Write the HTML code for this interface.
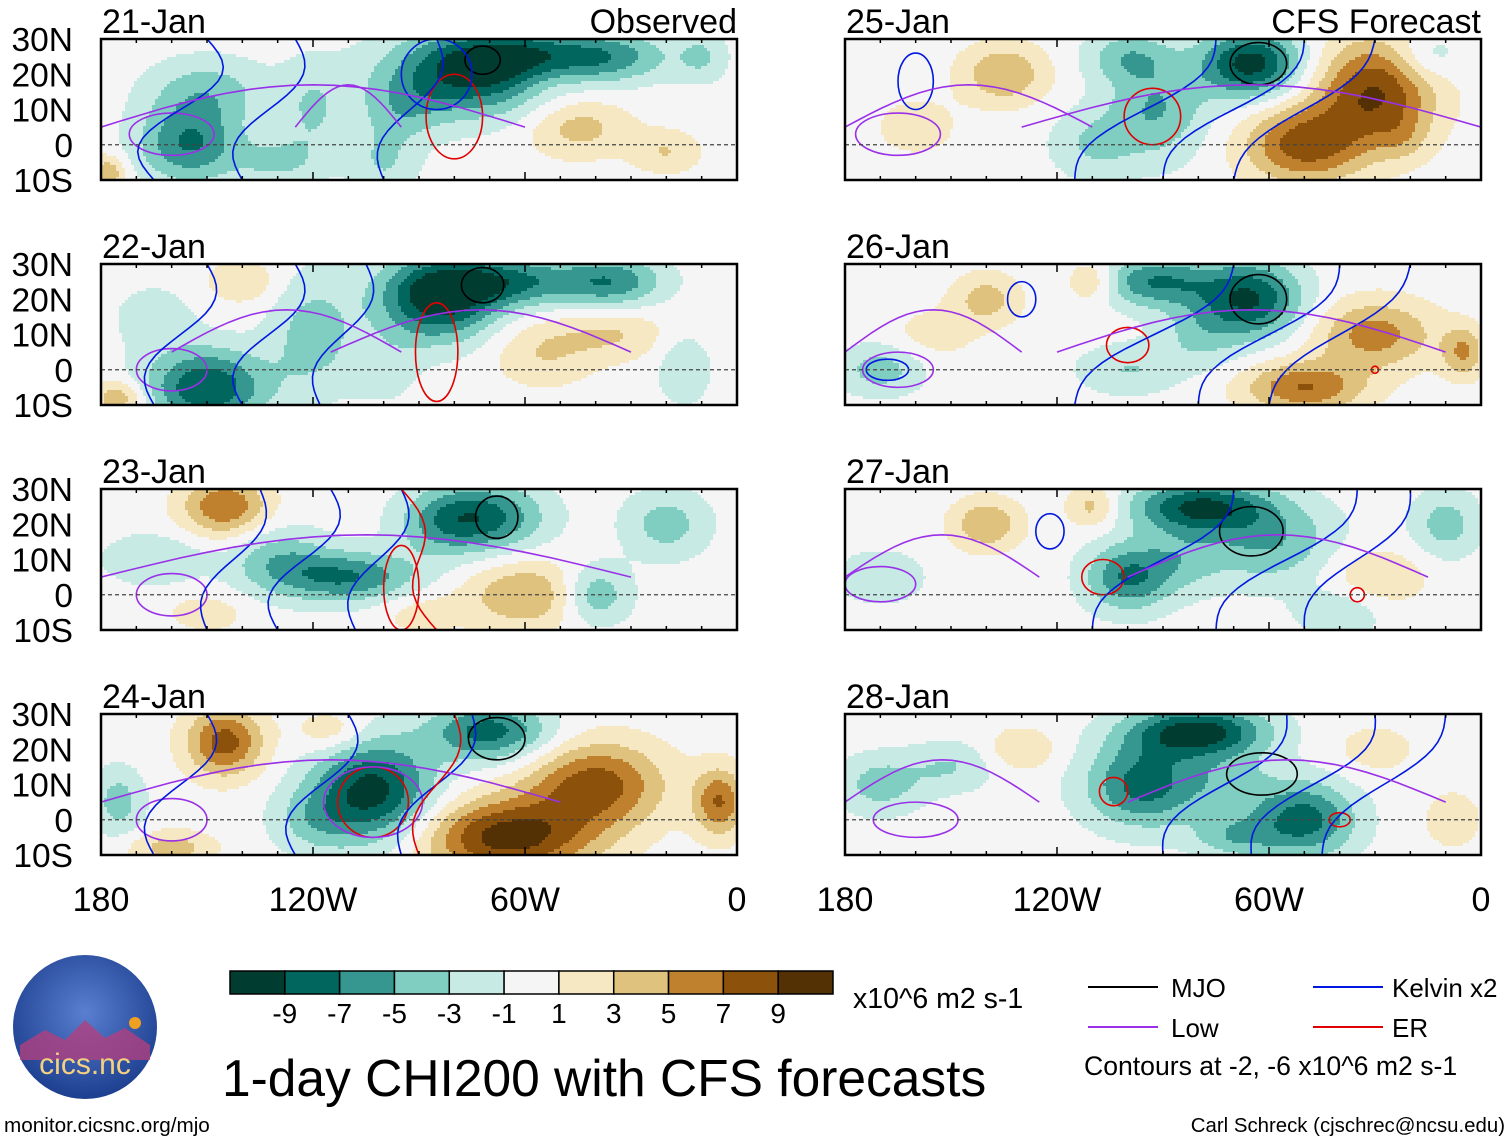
<!DOCTYPE html>
<html><head><meta charset="utf-8">
<style>
html,body{margin:0;padding:0;background:#fff;}
svg{display:block;font-family:"Liberation Sans",sans-serif;}
</style></head>
<body>
<div style="position:relative;width:1510px;height:1142px">
<svg id="chart" width="1510" height="1142" viewBox="0 0 1510 1142" style="position:absolute;left:0;top:0">
<defs>
<radialGradient id="logoGrad2" cx="50%" cy="40%" r="60%"><stop offset="0" stop-color="#5a7fd0"/><stop offset="1" stop-color="#1d3f8f"/></radialGradient>
</defs>
<g id="panels"></g>
<g id="bottom"></g>
<g><text x="853" y="1008" font-size="28.5">x10^6 m2 s-1</text></g>
<g><text x="222" y="1096" font-size="51.5">1-day CHI200 with CFS forecasts</text></g>
<g>
<line x1="1088" x2="1158" y1="987" y2="987" stroke="#000" stroke-width="2"/><text x="1171" y="997" font-size="26">MJO</text>
<line x1="1088" x2="1158" y1="1027" y2="1027" stroke="#9a30e8" stroke-width="2"/><text x="1171" y="1037" font-size="26">Low</text>
<line x1="1313" x2="1383" y1="987" y2="987" stroke="#0018e0" stroke-width="2"/><text x="1392" y="997" font-size="26">Kelvin x2</text>
<line x1="1313" x2="1383" y1="1027" y2="1027" stroke="#e00000" stroke-width="2"/><text x="1392" y="1037" font-size="26">ER</text>
<text x="1084" y="1075" font-size="26.6">Contours at -2, -6 x10^6 m2 s-1</text>
</g>
<g>
<circle cx="85" cy="1027" r="72" fill="url(#logoGrad2)"/>
<path d="M20 1045 L45 1030 L65 1040 L85 1020 L105 1038 L125 1028 L150 1045 L150 1060 L20 1060Z" fill="#b04080" opacity="0.8"/>
<circle cx="135" cy="1023" r="6" fill="#f0a020"/>
<text x="85" y="1074" font-size="30" fill="#f5d080" text-anchor="middle">cics.nc</text>
</g>
<g><text x="4" y="1132" font-size="20.7">monitor.cicsnc.org/mjo</text></g>
<g><text x="1505" y="1132" font-size="20.4" text-anchor="end">Carl Schreck (cjschrec@ncsu.edu)</text></g>
</svg>
</div>
<script>
// ---- data ----
const panelTitles = ["21-Jan","22-Jan","23-Jan","24-Jan","25-Jan","26-Jan","27-Jan","28-Jan"];
const colorLevels = [-9,-7,-5,-3,-1,1,3,5,7,9];
const colorPalette = ["#003c30","#01665e","#35978f","#80cdc1","#c7eae5","#f5f5f5","#f6e8c3","#dfc27d","#bf812d","#8c510a","#543005"];
const latTicks = ["30N","20N","10N","0","10S"];
const lonTicks = ["180","120W","60W","0"];
// anomaly blobs: [lonW, lat, value, halfWidthDeg, halfHeightDeg]
const blobs0 = [[75,20,-9,20,10],[60,25,-6,18,6],[155,0,-7,12,9],[150,15,-4,14,8],[120,10,-3,8,12],[45,5,4,12,7],[55,20,2,10,6],[178,-8,5,4,4],[35,25,-5,14,6],[100,-5,-3,8,8],[20,-2,3,8,5],[10,25,-3,6,6],[130,-5,-3,10,6],[95,10,-3,10,8]];
const blobs1 = [[85,20,-10,14,10],[65,25,-7,18,6],[150,-5,-9,14,9],[120,10,-4,10,14],[55,5,3,12,8],[35,10,3,12,6],[140,25,3,8,5],[175,-8,5,6,4],[35,25,-6,12,6],[15,0,-3,6,8],[100,0,-2,8,8],[165,15,-2,10,8]];
const blobs2 = [[72,22,-8,14,8],[145,25,7,10,7],[110,5,-7,16,6],[130,10,-4,12,8],[60,0,5,14,8],[40,0,-5,8,7],[150,-5,2,10,5],[20,20,-4,10,8],[165,10,-3,12,6],[90,-5,2,10,5],[85,20,-3,10,8]];
const blobs3 = [[145,22,8,9,8],[103,8,-10,14,12],[70,25,-8,14,7],[65,-5,10,20,9],[40,10,8,16,10],[5,5,7,6,8],[175,5,-4,6,8],[115,25,3,8,5],[160,-8,4,10,4],[120,0,-3,10,8]];
const blobs4 = [[65,23,-10,12,8],[92,10,-5,12,12],[30,15,9,14,12],[50,0,8,14,9],[135,20,5,10,7],[100,25,-4,10,6],[160,5,2,10,7],[15,25,-3,8,6],[22,2,2,6,6],[110,0,-3,10,8]];
const blobs5 = [[65,20,-9,12,9],[92,25,-7,14,6],[140,20,4,8,6],[110,25,4,6,5],[30,10,6,14,8],[50,-5,7,14,6],[170,0,-4,10,6],[100,0,-3,12,6],[155,10,2,10,6],[5,5,5,5,6],[80,10,-3,10,8]];
const blobs6 = [[80,25,-9,16,6],[100,5,-7,10,8],[60,15,-5,16,10],[140,20,5,8,6],[110,25,4,6,5],[30,5,3,12,7],[170,5,-3,10,6],[40,-5,-3,10,6],[10,20,-4,8,8],[85,10,-3,10,8]];
const blobs7 = [[80,25,-10,16,6],[95,10,-8,14,10],[50,0,-8,12,9],[170,10,-4,10,7],[130,20,3,8,5],[150,15,-3,10,6],[30,20,2,10,6],[8,0,3,6,6],[70,-5,-4,10,5],[70,10,-3,10,8]];
const panelBlobs = [blobs0,blobs1,blobs2,blobs3,blobs4,blobs5,blobs6,blobs7];
// closed contours: [kind, lonW, lat, halfWidthDeg, halfHeightDeg]
const cont0 = [["mjo",72,24,5,4],["er",80,8,8,12],["low",160,3,12,6],["kel",85,20,10,10]];
const cont1 = [["mjo",72,24,6,5],["er",85,5,6,14],["low",160,0,10,6]];
const cont2 = [["mjo",68,22,6,6],["er",95,2,5,12],["low",160,0,10,6]];
const cont3 = [["mjo",68,23,8,6],["er",103,5,10,10],["low",160,0,10,6],["low",103,5,14,10]];
const cont4 = [["mjo",63,23,8,6],["er",93,8,8,8],["low",165,3,12,6],["kel",160,18,5,8]];
const cont5 = [["mjo",63,20,8,7],["er",100,7,6,5],["low",165,0,10,5],["kel",168,0,6,3],["kel",130,20,4,5],["er",30,0,1,1]];
const cont6 = [["mjo",65,18,9,7],["er",107,5,6,5],["low",170,3,10,5],["kel",122,18,4,5],["er",35,0,2,2]];
const cont7 = [["mjo",62,13,10,6],["er",104,8,4,4],["low",160,0,12,5],["er",40,0,3,2]];
const panelContours = [cont0,cont1,cont2,cont3,cont4,cont5,cont6,cont7];
// open lines: [kind, lonW at 10S, lonW at 30N, wiggle amplitude deg]
const lines0 = [["kel",165,150,8],["kel",140,125,6],["kel",100,85,5],["low",180,60,0],["low",125,95,6]];
const lines1 = [["kel",165,150,6],["kel",140,125,6],["kel",118,105,5],["low",115,30,0],["low",160,95,6]];
const lines2 = [["kel",150,135,5],["kel",130,115,6],["kel",108,95,5],["low",180,30,0],["er",85,95,4]];
const lines3 = [["kel",165,150,6],["kel",125,110,6],["kel",95,75,5],["low",180,50,0],["er",90,80,4]];
const lines4 = [["kel",115,75,6],["kel",90,50,6],["kel",70,30,5],["low",130,0,0],["low",180,110,0]];
const lines5 = [["kel",115,70,6],["kel",80,40,6],["kel",60,20,5],["low",120,10,0],["low",180,130,0]];
const lines6 = [["kel",110,70,6],["kel",75,35,6],["kel",50,20,5],["low",100,15,0],["low",180,125,0]];
const lines7 = [["kel",90,55,6],["kel",65,30,6],["kel",45,10,5],["low",100,10,0],["low",180,125,0]];
const panelLines = [lines0,lines1,lines2,lines3,lines4,lines5,lines6,lines7];

// ---- layout ----
const NS="http://www.w3.org/2000/svg";
const colX=[101,845], rowY=[39,264,489,714], PW=636, PH=141;
const SPREAD=1.2;
const kindColor={mjo:"#000",kel:"#0018e0",low:"#9a30e8",er:"#e00000"};
function mk(tag,attrs,parent){const e=document.createElementNS(NS,tag);for(const k in attrs)e.setAttribute(k,attrs[k]);parent.appendChild(e);return e;}
function colorIdx(v){let i=0;while(i<colorLevels.length&&v>colorLevels[i])i++;return i;}
const panelsG=document.getElementById('panels');
const defs=document.querySelector('defs');
const CELL=3;

panelTitles.forEach((t,p)=>{
  const x0=colX[p<4?0:1], y0=rowY[p%4];
  const xS=lon=>x0+(180-lon)/180*PW;
  const yS=lat=>y0+(30-lat)/40*PH;
  const cp=mk('clipPath',{id:'cp'+p},defs);
  mk('rect',{x:x0,y:y0,width:PW,height:PH},cp);
  const g=mk('g',{},panelsG);
  
  
  const field=mk('g',{'clip-path':'url(#cp'+p+')'},g);
  const bl=panelBlobs[p];
  const nx=Math.ceil(PW/CELL), ny=Math.ceil(PH/CELL);
  for(let j=0;j<ny;j++){
    const lat=30-((j+0.5)*CELL)/PH*40;
    let runStart=0, runIdx=-1;
    for(let i=0;i<=nx;i++){
      let idx=-2;
      if(i<nx){
        const lon=180-((i+0.5)*CELL)/PW*180;
        let v=0;
        bl.forEach(b=>{const dx=(lon-b[0])/(b[3]*SPREAD), dy=(lat-b[1])/(b[4]*SPREAD); v+=b[2]*Math.exp(-(dx*dx+dy*dy));});
        idx=colorIdx(v);
      }
      if(idx!==runIdx){
        if(runIdx>=0){
          const r=mk('rect',{x:x0+runStart*CELL,y:y0+j*CELL,width:(i-runStart)*CELL+0.6,height:CELL+0.6,fill:colorPalette[runIdx]},field);
          
          
        }
        runStart=i; runIdx=idx;
      }
    }
  }
  panelContours[p].forEach(c=>{
    const e=mk('ellipse',{cx:xS(c[1]),cy:yS(c[2]),rx:c[3]/180*PW,ry:c[4]/40*PH,fill:'none',stroke:kindColor[c[0]],'stroke-width':1.6},field);
    
    
  });
  panelLines[p].forEach(l=>{
    let d='';
    for(let k=0;k<=20;k++){
      const f=k/20, lat=-10+40*f;
      const lon=l[1]+(l[2]-l[1])*f+l[3]*Math.sin(f*Math.PI*2);
      d+=(k?'L':'M')+xS(lon).toFixed(1)+' '+yS(lat).toFixed(1);
    }
    if(l[0]==='low'){
      d='';
      for(let k=0;k<=20;k++){
        const f=k/20, lon=l[1]+(l[2]-l[1])*f, lat=5+12*Math.sin(f*Math.PI);
        d+=(k?'L':'M')+xS(lon).toFixed(1)+' '+yS(lat).toFixed(1);
      }
    }
    const e=mk('path',{d:d,fill:'none',stroke:kindColor[l[0]],'stroke-width':1.6},field);
    
    
  });
  mk('line',{x1:x0,x2:x0+PW,y1:yS(0),y2:yS(0),stroke:'#444','stroke-width':1.3,'stroke-dasharray':'4,3'},g);
  const fr=mk('rect',{x:x0,y:y0,width:PW,height:PH,fill:'none',stroke:'#000','stroke-width':2.5},g);
  
  
  for(let lon=180;lon>=0;lon-=10){
    const L=(lon%60===0)?8:4;
    mk('line',{x1:xS(lon),x2:xS(lon),y1:y0,y2:y0+L,stroke:'#000','stroke-width':1.5},g);
    mk('line',{x1:xS(lon),x2:xS(lon),y1:y0+PH,y2:y0+PH-L,stroke:'#000','stroke-width':1.5},g);
  }
  const tt=mk('text',{x:x0+1,y:y0-6,'font-size':34,fill:'#000'},g);
  tt.textContent=t;
  
  
  if(p===0||p===4){
    const r=mk('text',{x:x0+PW,y:y0-6,'font-size':34,'text-anchor':'end'},g);
    r.textContent=p===0?'Observed':'CFS Forecast';
    
    
  }
  if(p<4){
    latTicks.forEach((l,i)=>{
      const lt=mk('text',{x:73,y:y0+i*PH/4+12,'font-size':33.5,'text-anchor':'end'},g);
      lt.textContent=l;
      
      
    });
  }
  if(p%4===3){
    lonTicks.forEach((l,i)=>{
      const xt=mk('text',{x:x0+i*PW/3,y:911,'font-size':34,'text-anchor':'middle'},g);
      xt.textContent=l;
      
      
    });
  }
});

// ---- colorbar ----
const B=document.getElementById('bottom');
const cbx=230, cby=971, cbw=603/11, cbh=23;
colorPalette.forEach((c,i)=>{
  const r=mk('rect',{x:cbx+i*cbw,y:cby,width:cbw,height:cbh,fill:c,stroke:'#000','stroke-width':1.5},B);
  
  
});
colorLevels.forEach((l,i)=>{
  const t=mk('text',{x:cbx+(i+1)*cbw,y:1023,'font-size':28,'text-anchor':'middle'},B);
  t.textContent=l;
  
  
});
</script>
</body></html>
